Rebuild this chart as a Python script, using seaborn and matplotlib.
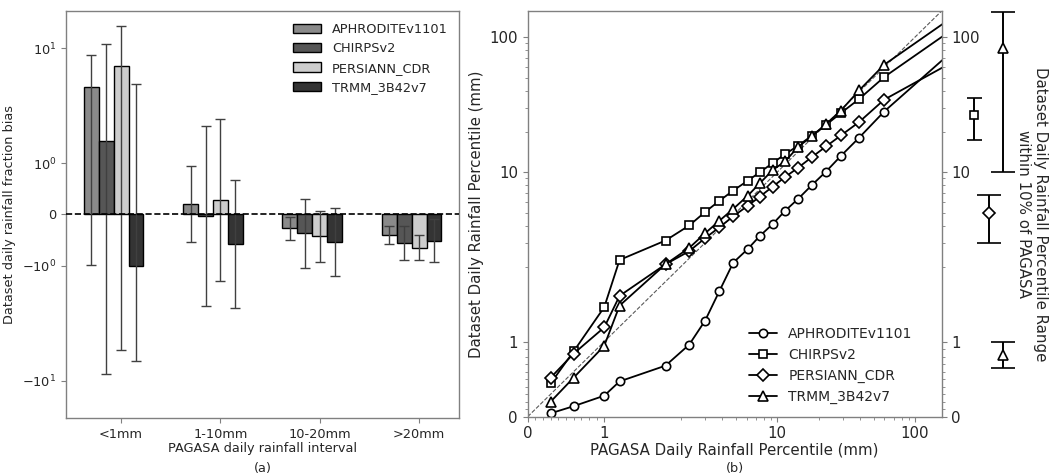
import numpy as np
import pandas as pd
import matplotlib
matplotlib.use('Agg')
import matplotlib.pyplot as plt
import matplotlib.ticker as mticker
import seaborn as sns

# ---- data -------------------------------------------------------------
datasets = ['APHRODITEv1101', 'CHIRPSv2', 'PERSIANN_CDR', 'TRMM_3B42v7']
intervals = ['<1mm', '1-10mm', '10-20mm', '>20mm']

# (a) daily rainfall fraction bias, one row per dataset
bias = [
    [3.77, 0.205, -0.27, -0.405],
    [1.43, -0.025, -0.37, -0.562],
    [6.39, 0.29, -0.425, -0.655],
    [-1.01, -0.575, -0.545, -0.51],
]
bias_err = [
    [4.75, 0.742, 0.23, 0.18],
    [9.8, 1.76, 0.68, 0.334],
    [11.05, 1.585, 0.5, 0.245],
    [5.1, 1.26, 0.665, 0.427],
]

# (b) daily rainfall percentiles (mm), PAGASA vs datasets
pagasa = [0.3, 0.6, 1.0, 1.2, 1.8, 2.3, 3.0, 3.8, 4.8, 6.1, 7.5, 9.3, 11.4,
          14.2, 17.8, 22.6, 29.0, 39.3, 59.7, 200]
aphro = [0.045, 0.14, 0.28, 0.47, 0.68, 0.96, 1.28, 1.67, 2.14, 2.69, 3.38,
         4.14, 5.17, 6.35, 8.0, 10.1, 13.2, 18.0, 28.1, 83.6]
chirps = [0.445, 0.87, 1.46, 2.24, 3.12, 4.03, 5.07, 6.13, 7.31, 8.63, 10.0,
          11.7, 13.6, 15.7, 18.6, 22.4, 27.4, 34.8, 50.6, 119.5]
persiann = [0.52, 0.84, 1.19, 1.61, 2.08, 2.6, 3.25, 3.9, 4.71, 5.63, 6.6,
            7.83, 9.19, 10.8, 12.9, 15.5, 18.7, 23.5, 34.4, 67.9]
trmm = [0.2, 0.52, 0.945, 1.48, 2.08, 2.75, 3.53, 4.36, 5.35, 6.68, 8.3,
        10.4, 12.0, 15.4, 18.4, 22.7, 28.6, 40.3, 62.4, 147.4]

# percentile range within 10% of PAGASA
range_sets = ['CHIRPSv2', 'PERSIANN_CDR', 'TRMM_3B42v7', 'TRMM_3B42v7']
range_mid = [26.6, 4.97, 83.0, 0.82]
range_lo = [17.4, 3.0, 10.1, 0.645]
range_hi = [35.3, 6.8, 153.0, 1.0]

# ---- style ------------------------------------------------------------
bar_colors = ['#8a8a8a', '#565656', '#cdcdcd', '#343434']
markers = ['o', 's', 'D', '^']
msizes = [6, 6, 6, 7.5]

sns.set_style('ticks')
plt.rcParams.update({
    'font.family': ['DejaVu Sans'],
    'axes.edgecolor': '0.5',
    'axes.linewidth': 1.0,
    'xtick.color': '0.5', 'ytick.color': '0.5',
    'xtick.labelcolor': '0.15', 'ytick.labelcolor': '0.15',
    'axes.labelcolor': '0.15', 'text.color': '0.15',
})

fig = plt.figure(figsize=(10.52, 4.76), dpi=100)
ax1 = fig.add_axes([0.0627, 0.1219, 0.3739, 0.855])
ax2 = fig.add_axes([0.5016, 0.1246, 0.3935, 0.8523])
ax3 = fig.add_axes([0.8983, 0.1246, 0.0665, 0.8523])

# ---- (a) bars ---------------------------------------------------------
fs_a = 9.3
df_bias = pd.DataFrame({
    'interval': np.tile(intervals, len(datasets)),
    'dataset': np.repeat(datasets, len(intervals)),
    'bias': np.ravel(bias),
})
sns.barplot(data=df_bias, x='interval', y='bias', hue='dataset',
            order=intervals, hue_order=datasets, palette=bar_colors,
            width=0.6, saturation=1, edgecolor='black', linewidth=1.0,
            errorbar=None, ax=ax1)
ax1.set_yscale('symlog', linthresh=2, linscale=1)
for cont, vals, errs in zip(ax1.containers, bias, bias_err):
    xs = [r.get_x() + r.get_width() / 2 for r in cont]
    ax1.errorbar(xs, vals, yerr=errs, fmt='none', ecolor='0.25',
                 elinewidth=1.0, capsize=3.6, capthick=1.0)
ax1.axhline(0, color='black', ls='--', lw=1.2, zorder=5)
ax1.set_xlim(-0.48, 3.48)
ax1.set_ylim(-25.4, 25.4)
ax1.set_xticks(np.arange(len(intervals)) + 0.075, intervals)
ax1.set_yticks([-10, -1, 0, 1, 10],
               [r'$-10^{1}$', r'$-10^{0}$', '0', r'$10^{0}$', r'$10^{1}$'])
ax1.yaxis.set_minor_locator(mticker.NullLocator())
ax1.tick_params(labelsize=fs_a, length=3.5)
ax1.set_xlabel('PAGASA daily rainfall interval', fontsize=fs_a, labelpad=1)
ax1.set_ylabel('Dataset daily rainfall fraction bias', fontsize=fs_a)
sns.move_legend(ax1, 'upper right', title=None, frameon=False,
                fontsize=fs_a, handlelength=2.2)

# ---- (b) percentile lines ---------------------------------------------
fs_b = 10.8
for name, vals, m, ms in zip(datasets, [aphro, chirps, persiann, trmm],
                             markers, msizes):
    sns.lineplot(x=pagasa, y=vals, ax=ax2, color='black', lw=1.3,
                 marker=m, markersize=ms, markerfacecolor='white',
                 markeredgecolor='black', markeredgewidth=1.2, label=name)
ax2.set_xscale('symlog', linthresh=2, linscale=1)
ax2.set_yscale('symlog', linthresh=2, linscale=1)
ax2.set_xlim(0, 156)
ax2.set_ylim(0, 156)
ax2.axline((0, 0), (1, 1), color='0.35', ls='--', lw=0.8, zorder=1)

major = [0, 1, 10, 100]
minor = ([i / 10 for i in range(1, 10)] + list(range(2, 10))
         + list(range(20, 100, 10)))
for axis in (ax2.xaxis, ax2.yaxis):
    axis.set_major_locator(mticker.FixedLocator(major))
    axis.set_major_formatter(mticker.FixedFormatter([str(v) for v in major]))
    axis.set_minor_locator(mticker.FixedLocator(minor))
    axis.set_minor_formatter(mticker.NullFormatter())
ax2.tick_params(which='major', labelsize=fs_b, length=3.5)
ax2.tick_params(which='minor', length=2)
ax2.tick_params(axis='y', which='both', right=True, labelright=True)
ax2.set_xlabel('PAGASA Daily Rainfall Percentile (mm)', fontsize=fs_b,
               labelpad=1)
ax2.set_ylabel('Dataset Daily Rainfall Percentile (mm)', fontsize=fs_b)
ax2.legend(loc='lower right', frameon=False, fontsize=10,
           bbox_to_anchor=(0.96, 0.0))

# ---- range error bars -------------------------------------------------
range_order = datasets[1:]
for s, mid, lo, hi in zip(range_sets, range_mid, range_lo, range_hi):
    idx = datasets.index(s)
    ax3.errorbar([range_order.index(s)], [mid], yerr=[[mid - lo], [hi - mid]],
                 fmt=markers[idx], ms=msizes[idx], mfc='white', mec='black',
                 mew=1.2, color='black', elinewidth=1.4,
                 capsize=5.4 if s == 'CHIRPSv2' else 8.6, capthick=1.4)
ax3.set_yscale('symlog', linthresh=2, linscale=1)
ax3.set_ylim(0, 156)
ax3.set_xlim(-2.0, 2.8)
ax3.axis('off')
fig.text(0.981, 0.5506,
         'Dataset Daily Rainfall Percentile Range\nwithin 10% of PAGASA',
         rotation=270, ha='center', va='center', ma='center', fontsize=fs_b)

fig.text(0.0627 + 0.3739 / 2, 0.016, '(a)', ha='center', va='center',
         fontsize=fs_a)
fig.text(0.5016 + 0.3935 / 2, 0.016, '(b)', ha='center', va='center',
         fontsize=fs_a)

fig.savefig('out.png', dpi=100)
